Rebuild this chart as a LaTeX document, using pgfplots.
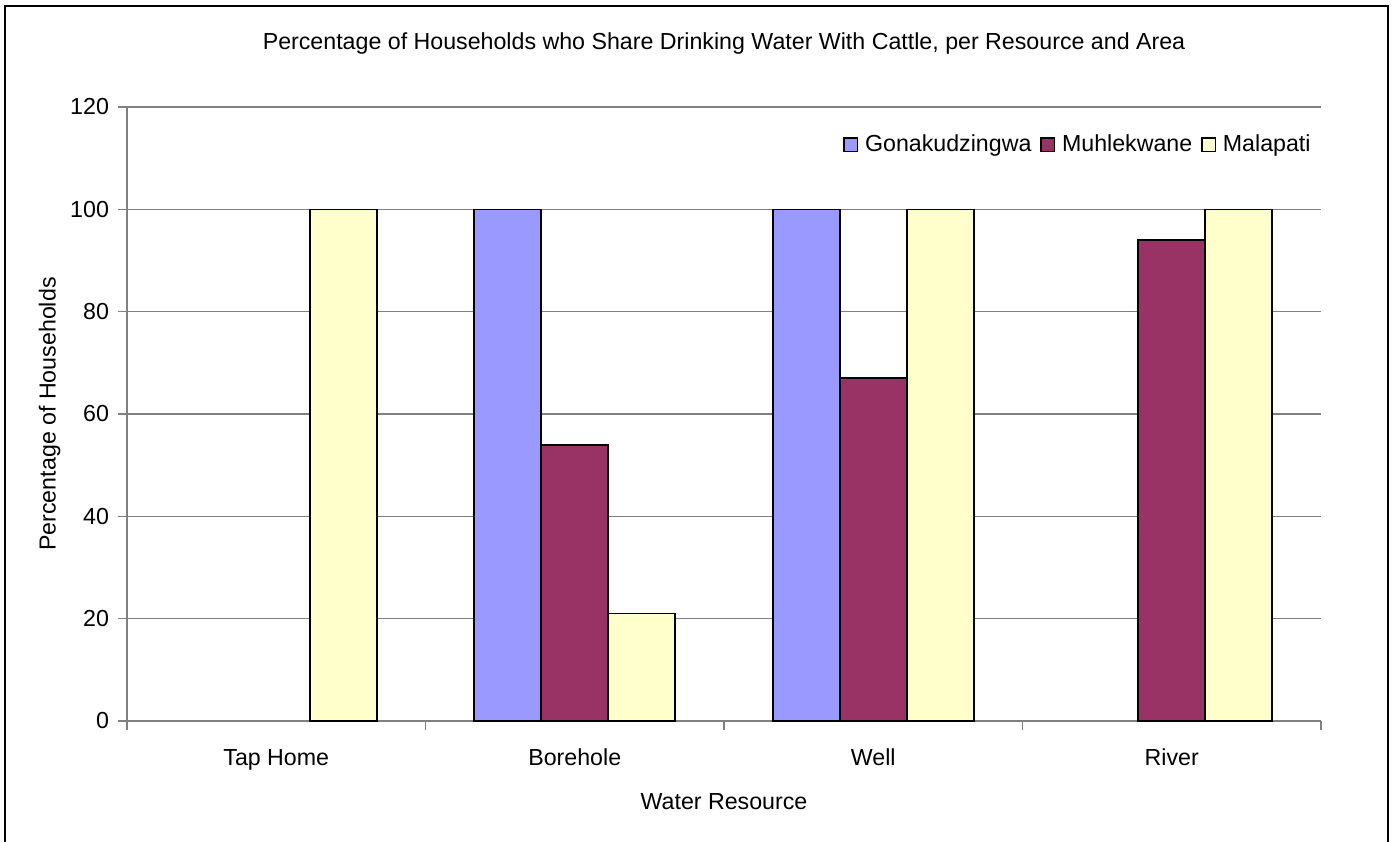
\documentclass[border=0pt]{standalone}
\usepackage{pgfplots}
\pgfplotsset{compat=1.18}
\usepackage{fontspec}
\setmainfont{Liberation Sans}

\definecolor{gona}{HTML}{9999FF}
\definecolor{muhl}{HTML}{993366}
\definecolor{mala}{HTML}{FFFFCC}
\definecolor{axisgray}{HTML}{808080}

\begin{document}
\begin{tikzpicture}[font=\fontsize{11.6}{13.5}\selectfont]
% page extent and outer chart frame
\useasboundingbox (-63.5pt,-60pt) rectangle (634pt,360.5pt);
\draw[line width=1.2pt,black] (-61pt,-62pt) -- (-61pt,357.5pt) -- (630.5pt,357.5pt) -- (630.5pt,-62pt);

\begin{axis}[
  at={(0,0)}, anchor=south west,
  scale only axis,
  width=597pt, height=307pt,
  ybar=0pt, bar width=33.5pt,
  xmin=-0.5, xmax=3.5,
  ymin=0, ymax=120,
  ytick={0,20,...,120},
  xtick={0,1,2,3},
  xticklabels={Tap Home,Borehole,Well,River},
  minor xtick={-0.5,0.5,1.5,2.5,3.5},
  axis x line*=bottom,
  axis y line*=left,
  axis line style={axisgray, line width=0.8pt, -},
  tick align=outside,
  major tick length=4.5pt,
  minor tick length=4.5pt,
  major x tick style={draw=none},
  minor x tick style={axisgray, line width=0.8pt},
  major y tick style={axisgray, line width=0.8pt},
  ymajorgrids,
  major grid style={axisgray, line width=0.8pt},
  yticklabel style={/pgf/number format/assume math mode=true, xshift=-1pt},
  xticklabel style={yshift=-6pt},
  xlabel={Water Resource},
  ylabel={Percentage of Households},
  xlabel style={yshift=-5pt},
  ylabel style={yshift=-2pt},
  legend columns=3,
  legend style={draw=none, fill=none, at={(1.0,0.938)}, anchor=east,
    /tikz/every even column/.append style={column sep=2.5pt},
    legend cell align=left, font=\fontsize{11.6}{13.5}\selectfont},
  % square swatch with a little room before the entry text
  legend image code/.code={
    \path[draw=none, fill=none] (0pt,0pt) -- (8.5pt,0pt);
    \draw[#1, draw=black, line width=0.6pt] (0pt,-3.3pt) rectangle (6.8pt,3.5pt);},
]
\addplot[fill=gona, draw=black, line width=0.8pt] coordinates {(1,100) (2,100)};
\addplot[fill=muhl, draw=black, line width=0.8pt] coordinates {(1,54) (2,67) (3,94)};
\addplot[fill=mala, draw=black, line width=0.8pt] coordinates {(0,100) (1,21) (2,100) (3,100)};
\legend{Gonakudzingwa,Muhlekwane,Malapati}
\end{axis}

\node at (298.5pt,338.5pt) {Percentage of Households who Share Drinking Water With Cattle, per Resource and Area};
\end{tikzpicture}
\end{document}
